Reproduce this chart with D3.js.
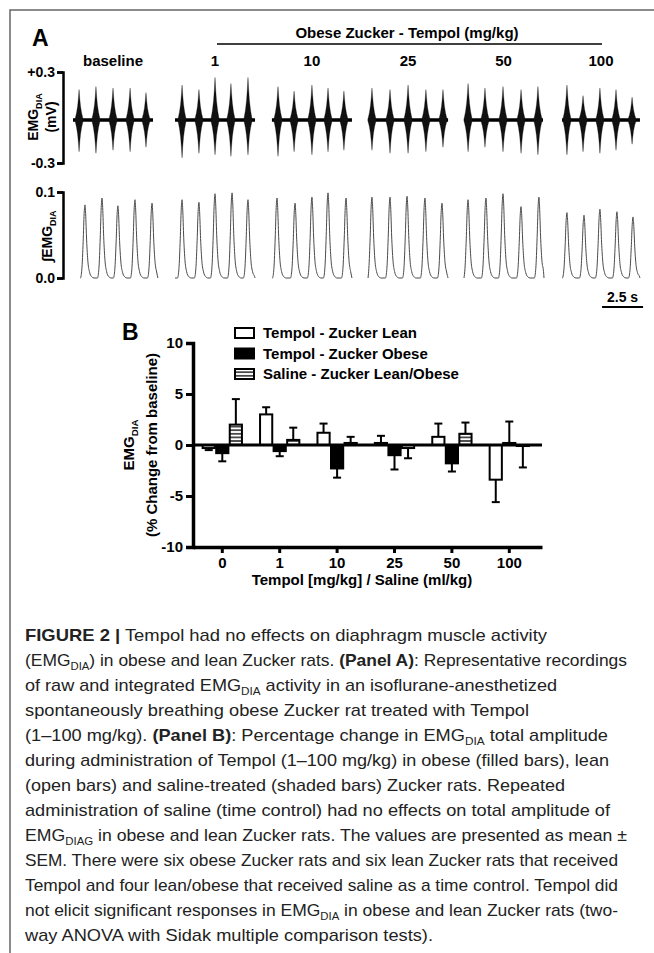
<!DOCTYPE html>
<html>
<head>
<meta charset="utf-8">
<script src="https://cdn.jsdelivr.net/npm/d3@7"></script>
<style>
  body { margin: 0; background: #fff; }
  text { font-family: "Liberation Sans", Arial, Helvetica, sans-serif; }
</style>
</head>
<body>
<div id="figure"></div>
<script>
// ---------- Panel A data ----------
const doses = ["baseline", "1", "10", "25", "50", "100"];

// raw EMG segments, seconds on the recording time axis
const rawStart = [0, 6.22, 12.13, 17.99, 23.84, 29.82];
const rawEnd = [4.88, 11.10, 17.01, 22.87, 28.66, 34.57];
const burstTimes = [
  [0.37, 1.40, 2.44, 3.48, 4.45],
  [6.65, 7.68, 8.66, 9.63, 10.67],
  [12.50, 13.48, 14.57, 15.55, 16.52],
  [18.23, 19.33, 20.43, 21.52, 22.56],
  [24.09, 25.12, 26.22, 27.32, 28.35],
  [30.12, 31.10, 32.13, 33.11, 34.09]
];
// peak amplitude of each burst above / below the trace (mV)
const burstUp = [
  [0.20, 0.22, 0.21, 0.21, 0.18],
  [0.23, 0.20, 0.28, 0.24, 0.28],
  [0.22, 0.19, 0.23, 0.21, 0.19],
  [0.21, 0.20, 0.23, 0.20, 0.20],
  [0.24, 0.21, 0.22, 0.20, 0.22],
  [0.23, 0.16, 0.21, 0.20, 0.15]
];
const burstDown = [
  [0.21, 0.22, 0.20, 0.21, 0.18],
  [0.25, 0.22, 0.23, 0.24, 0.23],
  [0.24, 0.21, 0.23, 0.21, 0.20],
  [0.20, 0.22, 0.22, 0.21, 0.18],
  [0.21, 0.18, 0.21, 0.22, 0.23],
  [0.23, 0.21, 0.22, 0.20, 0.16]
];
const rawOffset = -0.016;

// integrated EMG segments
const intStart = [0.43, 6.22, 12.13, 17.99, 23.84, 29.82];
const intEnd = [5.18, 11.10, 17.01, 22.87, 28.72, 34.57];
const peakTimes = [
  [0.73, 1.77, 2.74, 3.78, 4.82],
  [6.65, 7.68, 8.66, 9.70, 10.67],
  [12.44, 13.54, 14.57, 15.55, 16.65],
  [18.23, 19.33, 20.37, 21.46, 22.50],
  [24.09, 25.18, 26.22, 27.32, 28.41],
  [30.12, 31.16, 32.13, 33.17, 34.15]
];
const peakHeights = [
  [0.085, 0.093, 0.084, 0.091, 0.087],
  [0.091, 0.088, 0.098, 0.099, 0.091],
  [0.093, 0.087, 0.094, 0.099, 0.093],
  [0.094, 0.094, 0.095, 0.093, 0.087],
  [0.091, 0.093, 0.098, 0.083, 0.094],
  [0.076, 0.073, 0.080, 0.077, 0.071]
];
const scaleBarStart = 32.26; // s

// ---------- Panel B data ----------
const groups = ["0", "1", "10", "25", "50", "100"];
const seriesNames = ["Tempol - Zucker Lean", "Tempol - Zucker Obese", "Saline - Zucker Lean/Obese"];
const leanMean = [-0.3, 3.0, 1.2, 0.2, 0.8, -3.4];
const leanSem = [0.2, 0.7, 0.9, 0.7, 1.3, 2.2];
const obeseMean = [-0.8, -0.6, -2.3, -1.0, -1.8, 0.2];
const obeseSem = [0.8, 0.5, 0.9, 1.4, 0.8, 2.1];
const salineMean = [2.0, 0.5, 0.2, -0.3, 1.1, -0.1];
const salineSem = [2.5, 1.2, 0.6, 1.0, 1.1, 2.1];
const yTicks = [-10, -5, 0, 5, 10];

// ---------- caption ----------
const captionLines = [
  [["FIGURE 2 |", "b"], [" Tempol had no effects on diaphragm muscle activity"]],
  [["(EMG"], ["DIA", "s"], [") in obese and lean Zucker rats. "], ["(Panel A)", "b"], [": Representative recordings"]],
  [["of raw and integrated EMG"], ["DIA", "s"], [" activity in an isoflurane-anesthetized"]],
  [["spontaneously breathing obese Zucker rat treated with Tempol"]],
  [["(1–100 mg/kg). "], ["(Panel B)", "b"], [": Percentage change in EMG"], ["DIA", "s"], [" total amplitude"]],
  [["during administration of Tempol (1–100 mg/kg) in obese (filled bars), lean"]],
  [["(open bars) and saline-treated (shaded bars) Zucker rats. Repeated"]],
  [["administration of saline (time control) had no effects on total amplitude of"]],
  [["EMG"], ["DIAG", "s"], [" in obese and lean Zucker rats. The values are presented as mean ±"]],
  [["SEM. There were six obese Zucker rats and six lean Zucker rats that received"]],
  [["Tempol and four lean/obese that received saline as a time control. Tempol did"]],
  [["not elicit significant responses in EMG"], ["DIA", "s"], [" in obese and lean Zucker rats (two-"]],
  [["way ANOVA with Sidak multiple comparison tests)."]]
];
const captionEnds = [547, 627, 557, 529, 608, 609, 565, 610, 627, 618, 618, 618, 433];

// ---------- helpers ----------
// writes text parts into a <text>, handling bold and subscripts
function rich(textSel, parts, fs) {
  let shifted = false;
  parts.forEach(([t, s]) => {
    const ts = textSel.append("tspan").text(t);
    if (s === "b") ts.attr("font-weight", "bold");
    if (s === "s") {
      ts.attr("font-size", fs * 0.65).attr("dy", fs * 0.25);
      shifted = true;
    } else if (shifted) {
      ts.attr("dy", -fs * 0.25);
      shifted = false;
    }
  });
}

const W = 654, H = 953;
const svg = d3.select("#figure").append("svg")
  .attr("width", W)
  .attr("height", H);

svg.append("rect").attr("width", W).attr("height", H).attr("fill", "#fff");

// figure frame (top + left)
svg.append("path")
  .attr("d", `M10,${H} V10 H${W}`)
  .attr("fill", "none")
  .attr("stroke", "#666")
  .attr("stroke-width", 1.5);

// =============== PANEL A ===============
const tx = d3.scaleLinear().domain([0, 2.5]).range([73, 114]);
const yRaw = d3.scaleLinear().domain([-0.3, 0.3]).range([163, 72]);
const yInt = d3.scaleLinear().domain([0, 0.1]).range([278, 192]);

svg.append("text")
  .attr("x", 32).attr("y", 46)
  .attr("font-size", 23).attr("font-weight", "bold")
  .text("A");

// header with bar
svg.append("text")
  .attr("x", 407).attr("y", 38)
  .attr("text-anchor", "middle")
  .attr("font-size", 15).attr("font-weight", "bold")
  .text("Obese Zucker - Tempol (mg/kg)");
svg.append("line")
  .attr("x1", 217).attr("x2", 602)
  .attr("y1", 44).attr("y2", 44)
  .attr("stroke", "#000").attr("stroke-width", 1.5);

// dose labels over each segment
svg.append("g").selectAll("text")
  .data(doses)
  .join("text")
  .attr("x", (d, i) => tx((rawStart[i] + rawEnd[i]) / 2))
  .attr("y", 66)
  .attr("text-anchor", "middle")
  .attr("font-size", 15).attr("font-weight", "bold")
  .text(d => d);

// raw EMG axis (bracket)
const rawAxis = svg.append("g")
  .attr("transform", "translate(63,0)")
  .call(d3.axisLeft(yRaw).tickValues([-0.3, 0.3]).tickSize(6).tickPadding(2)
    .tickFormat(d => d > 0 ? "+0.3" : "-0.3"));

const intAxis = svg.append("g")
  .attr("transform", "translate(63,0)")
  .call(d3.axisLeft(yInt).tickValues([0, 0.1]).tickSize(6).tickPadding(2)
    .tickFormat(d3.format(".1f")));

[rawAxis, intAxis].forEach(g => {
  g.select(".domain").attr("stroke-width", 2.5);
  g.selectAll(".tick line").attr("stroke-width", 2.5);
  g.selectAll(".tick text")
    .attr("font-size", 14).attr("font-weight", "bold")
    .attr("fill", "#000")
    .style("font-family", "'Liberation Sans', Arial, sans-serif");
});

// raw axis title
const rawTitle = svg.append("g").attr("transform", "translate(0,117)");
rich(rawTitle.append("text")
  .attr("transform", "translate(38,0) rotate(-90)")
  .attr("text-anchor", "middle")
  .attr("font-size", 14).attr("font-weight", "bold"),
  [["EMG"], ["DIA", "s"]], 14);
rawTitle.append("text")
  .attr("transform", "translate(56,0) rotate(-90)")
  .attr("text-anchor", "middle")
  .attr("font-size", 14).attr("font-weight", "bold")
  .text("(mV)");

// integrated axis title
rich(svg.append("text")
  .attr("transform", "translate(52,236) rotate(-90)")
  .attr("text-anchor", "middle")
  .attr("font-size", 14).attr("font-weight", "bold"),
  [["∫EMG"], ["DIA", "s"]], 14);

// raw traces: baseline + narrow spindle bursts
const spindle = [[-0.26, 0], [-0.16, 0.22], [-0.09, 0.45], [-0.04, 0.72], [-0.012, 0.93], [0, 1],
  [0.012, 0.93], [0.04, 0.72], [0.09, 0.45], [0.16, 0.22], [0.26, 0]];
const rawG = svg.append("g");
doses.forEach((d, i) => {
  rawG.append("line")
    .attr("x1", tx(rawStart[i])).attr("x2", tx(rawEnd[i]))
    .attr("y1", yRaw(rawOffset)).attr("y2", yRaw(rawOffset))
    .attr("stroke", "#000").attr("stroke-width", 3.5);
  burstTimes[i].forEach((t, j) => {
    const area = d3.area()
      .x(p => tx(t + p[0]))
      .y0(p => yRaw(rawOffset - burstDown[i][j] * p[1]))
      .y1(p => yRaw(rawOffset + burstUp[i][j] * p[1]));
    rawG.append("path")
      .attr("d", area(spindle))
      .attr("fill", "#111")
      .attr("stroke", "#000").attr("stroke-opacity", 0.35).attr("stroke-width", 0.8);
  });
});

// integrated traces
const breath = [[-0.28, 0], [-0.19, 0.12], [-0.11, 0.5], [-0.05, 0.88], [0, 1], [0.04, 0.88],
  [0.1, 0.52], [0.18, 0.22], [0.28, 0.08], [0.4, 0.02], [0.55, 0]];
const intLine = d3.line()
  .x(p => tx(p[0]))
  .y(p => yInt(p[1]))
  .curve(d3.curveMonotoneX);
doses.forEach((d, i) => {
  let pts = [];
  peakTimes[i].forEach((t, j) => {
    breath.forEach(b => pts.push([t + b[0], peakHeights[i][j] * b[1]]));
  });
  pts = pts.filter(p => p[0] >= intStart[i] && p[0] <= intEnd[i]);
  if (pts[0][0] > intStart[i] + 0.01) pts.unshift([intStart[i], 0]);
  if (pts[pts.length - 1][0] < intEnd[i] - 0.01) pts.push([intEnd[i], 0]);
  svg.append("path")
    .attr("d", intLine(pts))
    .attr("fill", "none")
    .attr("stroke", "#4a4a4a")
    .attr("stroke-width", 1);
});

// time scale bar
svg.append("line")
  .attr("x1", tx(scaleBarStart)).attr("x2", tx(scaleBarStart + 2.5))
  .attr("y1", 307).attr("y2", 307)
  .attr("stroke", "#000").attr("stroke-width", 2);
svg.append("text")
  .attr("x", tx(scaleBarStart + 1.25)).attr("y", 302)
  .attr("text-anchor", "middle")
  .attr("font-size", 14).attr("font-weight", "bold")
  .text("2.5 s");

// =============== PANEL B ===============
svg.append("text")
  .attr("x", 122).attr("y", 340)
  .attr("font-size", 23).attr("font-weight", "bold")
  .text("B");

const defs = svg.append("defs");
const hatch = defs.append("pattern")
  .attr("id", "hatch")
  .attr("patternUnits", "userSpaceOnUse")
  .attr("width", 4).attr("height", 3.6);
hatch.append("rect").attr("width", 4).attr("height", 3.6).attr("fill", "#fff");
hatch.append("line")
  .attr("x1", 0).attr("x2", 4).attr("y1", 1.8).attr("y2", 1.8)
  .attr("stroke", "#000").attr("stroke-width", 1.3);

const fills = ["#fff", "#000", "url(#hatch)"];
const means = [leanMean, obeseMean, salineMean];
const sems = [leanSem, obeseSem, salineSem];

const xB = d3.scaleBand().domain(groups).range([193, 542])
  .paddingInner(0).paddingOuter(0.04).align(0.13);
const xSub = d3.scaleBand().domain([0, 1, 2]).range([-21, 21]).padding(0.1);
const yB = d3.scaleLinear().domain([-10, 10]).range([547, 343]);

const bars = [];
groups.forEach((g, gi) => {
  seriesNames.forEach((s, si) => {
    bars.push({ group: g, s: si, v: means[si][gi], e: sems[si][gi] });
  });
});

const cx = d => xB(d.group) + xB.bandwidth() / 2 + xSub(d.s) + xSub.bandwidth() / 2;

const barG = svg.append("g");
// error bars (one-sided, away from zero)
const errEnd = d => d.v >= 0 ? d.v + d.e : d.v - d.e;
barG.selectAll(".err")
  .data(bars)
  .join("line")
  .attr("class", "err")
  .attr("x1", cx).attr("x2", cx)
  .attr("y1", d => yB(d.v))
  .attr("y2", d => yB(errEnd(d)))
  .attr("stroke", "#000").attr("stroke-width", 2);
barG.selectAll(".cap")
  .data(bars)
  .join("line")
  .attr("class", "cap")
  .attr("x1", d => cx(d) - 4).attr("x2", d => cx(d) + 4)
  .attr("y1", d => yB(errEnd(d)))
  .attr("y2", d => yB(errEnd(d)))
  .attr("stroke", "#000").attr("stroke-width", 2);

barG.selectAll("rect")
  .data(bars)
  .join("rect")
  .attr("x", d => xB(d.group) + xB.bandwidth() / 2 + xSub(d.s))
  .attr("width", xSub.bandwidth())
  .attr("y", d => yB(Math.max(0, d.v)))
  .attr("height", d => Math.abs(yB(d.v) - yB(0)))
  .attr("fill", d => fills[d.s])
  .attr("stroke", "#000")
  .attr("stroke-width", 2);

// zero line
svg.append("line")
  .attr("x1", 193).attr("x2", 542)
  .attr("y1", yB(0)).attr("y2", yB(0))
  .attr("stroke", "#000").attr("stroke-width", 3);

// axes
const yAxisB = svg.append("g")
  .attr("transform", "translate(193,0)")
  .call(d3.axisLeft(yB).tickValues(yTicks).tickSize(7).tickPadding(3)
    .tickFormat(d => String(d)));
const xAxisB = svg.append("g")
  .attr("transform", "translate(0,547)")
  .call(d3.axisBottom(xB).tickSize(6).tickSizeOuter(0).tickPadding(4));

[yAxisB, xAxisB].forEach(g => {
  g.select(".domain").attr("stroke-width", 3.5);
  g.selectAll(".tick line").attr("stroke-width", 3);
  g.selectAll(".tick text")
    .attr("font-size", 15).attr("font-weight", "bold")
    .attr("fill", "#000")
    .style("font-family", "'Liberation Sans', Arial, sans-serif");
});

// axis titles
rich(svg.append("text")
  .attr("transform", "translate(134,445) rotate(-90)")
  .attr("text-anchor", "middle")
  .attr("font-size", 15).attr("font-weight", "bold"),
  [["EMG"], ["DIA", "s"]], 15);
svg.append("text")
  .attr("transform", "translate(157,445) rotate(-90)")
  .attr("text-anchor", "middle")
  .attr("font-size", 15).attr("font-weight", "bold")
  .text("(% Change from baseline)");

svg.append("text")
  .attr("x", 362).attr("y", 585)
  .attr("text-anchor", "middle")
  .attr("font-size", 15).attr("font-weight", "bold")
  .text("Tempol [mg/kg] / Saline (ml/kg)");

// legend
const legend = svg.append("g").attr("transform", "translate(235,333)");
seriesNames.forEach((s, i) => {
  const row = legend.append("g").attr("transform", `translate(0,${i * 20.5})`);
  row.append("rect")
    .attr("x", 0).attr("y", -5)
    .attr("width", 19).attr("height", 10)
    .attr("fill", fills[i])
    .attr("stroke", "#000").attr("stroke-width", 2);
  row.append("text")
    .attr("x", 28).attr("y", 0).attr("dy", "0.35em")
    .attr("font-size", 15).attr("font-weight", "bold")
    .text(s);
});

// =============== CAPTION ===============
const capG = svg.append("g");
captionLines.forEach((parts, i) => {
  const t = capG.append("text")
    .attr("x", 25)
    .attr("y", 641 + i * 25)
    .attr("font-size", 17)
    .attr("fill", "#222")
    .attr("textLength", captionEnds[i] - 25)
    .attr("lengthAdjust", "spacingAndGlyphs");
  rich(t, parts, 17);
});
</script>
</body>
</html>
